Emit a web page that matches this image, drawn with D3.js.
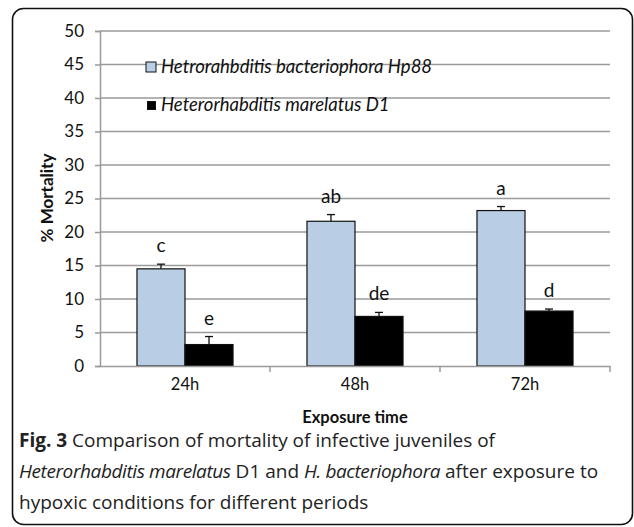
<!DOCTYPE html>
<html>
<head>
<meta charset="utf-8">
<script src="https://cdn.jsdelivr.net/npm/d3@7"></script>
<style>
  body { margin: 0; background: #fff; }
  svg { display: block; }
</style>
</head>
<body>
<svg width="634" height="527"></svg>
<script>
// data
var times = ['24h', '48h', '72h'];
var seriesNames = ['Hetrorahbditis bacteriophora Hp88', 'Heterorhabditis marelatus D1'];
var hp88 = [14.5, 21.6, 23.2];
var hp88Err = [0.7, 1.0, 0.6];
var d1 = [3.2, 7.4, 8.2];
var d1Err = [1.2, 0.6, 0.3];
var hp88Letters = ['c', 'ab', 'a'];
var d1Letters = ['e', 'de', 'd'];
var yTicks = [0, 5, 10, 15, 20, 25, 30, 35, 40, 45, 50];

var colors = ['#b9cde5', '#000000'];
var margin = {top: 31, bottom: 161, left: 100, right: 24};
var width = 634, height = 527;

var rows = [];
times.forEach(function(t, i) {
    rows.push({time: t, s: 0, v: hp88[i], e: hp88Err[i], letter: hp88Letters[i]});
    rows.push({time: t, s: 1, v: d1[i], e: d1Err[i], letter: d1Letters[i]});
});

var svg = d3.select('svg');

// frame
svg.append('rect')
    .attr('x', 12.5).attr('y', 8.5)
    .attr('width', 620).attr('height', 516)
    .attr('rx', 11)
    .attr('fill', 'none')
    .attr('stroke', '#111')
    .attr('stroke-width', 1.6);

//scales
var x0 = d3.scaleBand()
    .domain(times)
    .range([margin.left, width - margin.right]);
var x1 = d3.scaleBand()
    .domain([0, 1])
    .range([0, x0.bandwidth()])
    .paddingOuter(0.77);
var yScale = d3.scaleLinear()
    .domain([0, 50])
    .range([height - margin.bottom, margin.top]);

// gridlines
svg.append('g').selectAll('line')
    .data(yTicks.slice(1))
    .enter().append('line')
    .attr('x1', margin.left).attr('x2', width - margin.right)
    .attr('y1', d => yScale(d)).attr('y2', d => yScale(d))
    .attr('stroke', '#9a9a9a')
    .attr('stroke-width', 1.5);

// y axis
var yAxis = d3.axisLeft(yScale).tickValues(yTicks).tickSize(5).tickPadding(11);
var gy = svg.append('g')
    .attr('transform', 'translate(' + [margin.left, 0] + ')')
    .call(yAxis);
gy.selectAll('line, path').attr('stroke', '#9a9a9a').attr('stroke-width', 1.5);
gy.selectAll('text')
    .attr('font-family', 'Lato, sans-serif')
    .attr('font-size', 17)
    .attr('fill', '#111');

// bars
svg.append('g').selectAll('rect')
    .data(rows)
    .enter().append('rect')
    .attr('x', d => x0(d.time) + x1(d.s))
    .attr('y', d => yScale(d.v))
    .attr('width', x1.bandwidth())
    .attr('height', d => yScale(0) - yScale(d.v))
    .attr('fill', d => colors[d.s])
    .attr('stroke', '#111')
    .attr('stroke-width', 1.2);

// error bars (upper only)
var err = svg.append('g').attr('stroke', '#111').attr('stroke-width', 1.3);
rows.forEach(function(d) {
    var cx = x0(d.time) + x1(d.s) + x1.bandwidth() / 2;
    err.append('line')
        .attr('x1', cx).attr('x2', cx)
        .attr('y1', yScale(d.v)).attr('y2', yScale(d.v + d.e));
    err.append('line')
        .attr('x1', cx - 4).attr('x2', cx + 4)
        .attr('y1', yScale(d.v + d.e)).attr('y2', yScale(d.v + d.e));
});

// significance letters
svg.append('g').selectAll('text')
    .data(rows)
    .enter().append('text')
    .attr('x', d => x0(d.time) + x1(d.s) + x1.bandwidth() / 2)
    .attr('y', d => yScale(d.v + d.e) - 12)
    .attr('text-anchor', 'middle')
    .attr('font-family', 'Lato, sans-serif')
    .attr('font-size', 19)
    .attr('fill', '#111')
    .text(d => d.letter);

// x axis
var xAxis = d3.axisBottom(x0).tickSize(0).tickPadding(12);
var gx = svg.append('g')
    .attr('transform', 'translate(' + [0, height - margin.bottom] + ')')
    .call(xAxis);
gx.select('path').attr('stroke', '#9a9a9a').attr('stroke-width', 1.5);
gx.selectAll('text')
    .attr('font-family', 'Lato, sans-serif')
    .attr('font-size', 16.5)
    .attr('fill', '#111');
// category separators
gx.append('g').selectAll('line')
    .data(times)
    .enter().append('line')
    .attr('x1', d => x0(d) + x0.bandwidth()).attr('x2', d => x0(d) + x0.bandwidth())
    .attr('y1', 0).attr('y2', 6)
    .attr('stroke', '#9a9a9a').attr('stroke-width', 1.5);

// axis titles
svg.append('text')
    .attr('x', (margin.left + width - margin.right) / 2)
    .attr('y', 423)
    .attr('text-anchor', 'middle')
    .attr('font-family', 'Lato, sans-serif')
    .attr('font-weight', 'bold')
    .attr('font-size', 16.5)
    .attr('fill', '#111')
    .text('Exposure time');
svg.append('text')
    .attr('transform', 'translate(53,198) rotate(-90)')
    .attr('text-anchor', 'middle')
    .attr('font-family', 'Lato, sans-serif')
    .attr('font-weight', 'bold')
    .attr('font-size', 17)
    .attr('fill', '#111')
    .text('% Mortality');

// legend
var legend = svg.append('g').selectAll('g')
    .data(seriesNames)
    .enter().append('g')
    .attr('transform', (d, i) => 'translate(146,' + (62 + i * 38) + ')');
legend.append('rect')
    .attr('x', (d, i) => i ? 1.5 : 0).attr('y', (d, i) => i ? 1.5 : 0)
    .attr('width', (d, i) => i ? 8 : 10).attr('height', (d, i) => i ? 8 : 10)
    .attr('fill', (d, i) => colors[i])
    .attr('stroke', '#111').attr('stroke-width', 1);
legend.append('text')
    .attr('x', 15).attr('y', 11)
    .attr('font-family', 'Lato, sans-serif')
    .attr('font-style', 'italic')
    .attr('font-size', 18.5)
    .attr('fill', '#111')
    .text(d => d);

// caption
var cap = svg.append('text')
    .attr('font-family', '"Open Sans", sans-serif')
    .attr('font-size', 19)
    .attr('fill', '#222');
var l1 = cap.append('tspan').attr('x', 19).attr('y', 447);
l1.append('tspan').attr('font-weight', 'bold').text('Fig. 3');
l1.append('tspan').text(' Comparison of mortality of infective juveniles of');
var l2 = cap.append('tspan').attr('x', 19).attr('y', 478);
l2.append('tspan').attr('font-style', 'italic').attr('letter-spacing', -0.4).text('Heterorhabditis marelatus');
l2.append('tspan').text(' D1 and ');
l2.append('tspan').attr('font-style', 'italic').attr('letter-spacing', -0.4).text('H. bacteriophora');
l2.append('tspan').text(' after exposure to');
cap.append('tspan').attr('x', 19).attr('y', 509).text('hypoxic conditions for different periods');
</script>
</body>
</html>
